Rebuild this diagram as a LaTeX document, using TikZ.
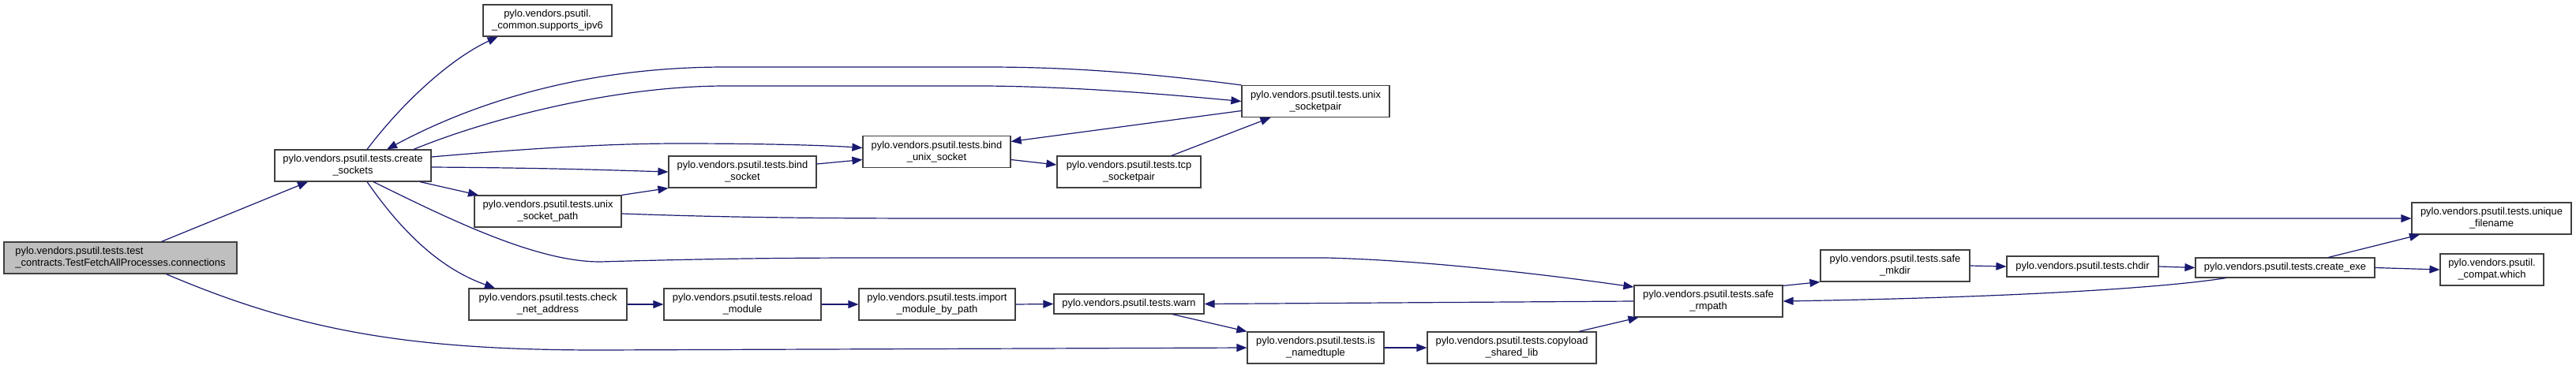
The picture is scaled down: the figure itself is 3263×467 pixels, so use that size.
\documentclass[tikz,border=0pt]{standalone}
\usepackage{fontspec}
\setmainfont{Liberation Sans}
\usetikzlibrary{arrows.meta}
\definecolor{calledge}{HTML}{191970}
\definecolor{boxline}{HTML}{404040}
\definecolor{current}{HTML}{BFBFBF}

\begin{document}
\begin{tikzpicture}[x=1pt,y=-1pt,
  fn/.style={draw=boxline,line width=1.2pt,rectangle,inner sep=0pt,minimum height=40pt,
    align=center,font=\fontsize{12.9}{15}\selectfont},
  fnline/.style={fn,minimum height=25pt},
  call/.style={draw=calledge,line width=1.2pt,-{Triangle[length=13pt,width=10pt]}}]
  \useasboundingbox (0,0) rectangle (3263,467);

  % Caller
  \node[fn,fill=current,align=left,minimum width=295pt] (main) at (152.5,327)
    {pylo.vendors.psutil.tests.test\\\_contracts.TestFetchAllProcesses.connections};

  % First column
  \node[fn,minimum width=198pt] (create) at (447,210) {pylo.vendors.psutil.tests.create\\\_sockets};

  % Second column
  \node[fn,minimum width=163pt] (ipv6) at (693.5,26) {pylo.vendors.psutil.\\\_common.supports\_ipv6};
  \node[fn,minimum width=186pt] (sockpath) at (694,268) {pylo.vendors.psutil.tests.unix\\\_socket\_path};
  \node[fn,minimum width=200pt] (netaddr) at (694,386) {pylo.vendors.psutil.tests.check\\\_net\_address};

  % Third column
  \node[fn,minimum width=187pt] (bindsock) at (940.5,218) {pylo.vendors.psutil.tests.bind\\\_socket};
  \node[fn,minimum width=199pt] (reload) at (940.5,386) {pylo.vendors.psutil.tests.reload\\\_module};

  % Fourth column
  \node[fn,minimum width=187pt] (bindunix) at (1186.5,192.5) {pylo.vendors.psutil.tests.bind\\\_unix\_socket};
  \node[fn,minimum width=198pt] (importmod) at (1187,386) {pylo.vendors.psutil.tests.import\\\_module\_by\_path};

  % Fifth column
  \node[fn,minimum width=182pt] (tcppair) at (1430,218) {pylo.vendors.psutil.tests.tcp\\\_socketpair};
  \node[fnline,minimum width=190pt] (warn) at (1430,385.5) {pylo.vendors.psutil.tests.warn};

  % Sixth column
  \node[fn,minimum width=187pt] (unixpair) at (1666.5,128.5) {pylo.vendors.psutil.tests.unix\\\_socketpair};
  \node[fn,minimum width=173pt] (namedtup) at (1666.5,441) {pylo.vendors.psutil.tests.is\\\_namedtuple};

  % Right part
  \node[fn,minimum width=214pt] (copyload) at (1915,441) {pylo.vendors.psutil.tests.copyload\\\_shared\_lib};
  \node[fn,minimum width=188pt] (rmpath) at (2164,382) {pylo.vendors.psutil.tests.safe\\\_rmpath};
  \node[fn,minimum width=189pt] (mkdir) at (2400.5,337) {pylo.vendors.psutil.tests.safe\\\_mkdir};
  \node[fnline,minimum width=192pt,minimum height=26pt] (chdir) at (2638,338) {pylo.vendors.psutil.tests.chdir};
  \node[fnline,minimum width=227pt] (createexe) at (2894.5,339.5) {pylo.vendors.psutil.tests.create\_exe};
  \node[fn,minimum width=202pt] (unique) at (3156,277) {pylo.vendors.psutil.tests.unique\\\_filename};
  \node[fn,minimum width=131pt] (which) at (3156.5,342) {pylo.vendors.psutil.\\\_compat.which};

  % Calls
  \draw[call] ([xshift=52]main.north) -- ([xshift=-57]create.south);
  \draw[call] ([xshift=58]main.south) .. controls (380,420) and (520,444) .. (760,444) -- (namedtup.west);
  \draw[call] ([xshift=18]create.north) .. controls (510,130) and (570,75) .. ([xshift=-63]ipv6.south);
  \draw[call] (unixpair.north west) .. controls (1450,92) and (1350,85) .. (1250,85) -- (919,85)
    .. controls (750,85) and (610,125) .. ([xshift=43]create.north);
  \draw[call] ([xshift=77]create.north) .. controls (620,150) and (780,109) .. (919,109) -- (1250,109)
    .. controls (1350,110) and (1450,117) .. (unixpair.west);
  \draw[call] ([yshift=11]create.east) .. controls (650,190) and (760,182) .. (860,182)
    .. controls (960,182) and (1040,184) .. ([yshift=5]bindunix.west);
  \draw[call] ([yshift=-2]create.east) .. controls (700,213) and (780,216) .. (bindsock.west);
  \draw[call] ([xshift=85]create.south) -- ([xshift=-88]sockpath.north);
  \draw[call] ([xshift=26]create.south) .. controls (573,280) and (680,332) .. (760,332)
    .. controls (900,328) and (1000,327) .. (1100,327) -- (1680,327)
    .. controls (1800,330) and (1950,347) .. ([yshift=18]rmpath.west);
  \draw[call] ([xshift=18]create.south) .. controls (520,310) and (570,345) .. ([xshift=-67]netaddr.north);
  \draw[call] (sockpath.north east) -- (bindsock.south west);
  \draw[call] ([yshift=-3]sockpath.east) .. controls (900,275) and (1000,277) .. (1200,277) -- (unique.west);
  \draw[call] ([yshift=10]bindsock.east) -- ([yshift=-10]bindunix.west);
  \draw[call] ([yshift=-10]bindunix.east) -- ([yshift=9]tcppair.west);
  \draw[call] ([yshift=-12]unixpair.west) -- ([yshift=13]bindunix.east);
  \draw[call] ([xshift=54]tcppair.north) -- ([xshift=-57]unixpair.south);
  \draw[call] (netaddr.east) -- (reload.west);
  \draw[call] (reload.east) -- (importmod.west);
  \draw[call] (importmod.east) -- (warn.west);
  \draw[call] ([xshift=55]warn.south) -- (namedtup.north west);
  \draw[call] (rmpath.west) -- (warn.east);
  \draw[call] (namedtup.east) -- (copyload.west);
  \draw[call] ([xshift=85]copyload.north) -- ([xshift=6]rmpath.south west);
  \draw[call] ([yshift=-1]rmpath.north east) -- (mkdir.south west);
  \draw[call] (mkdir.east) -- (chdir.west);
  \draw[call] (chdir.east) -- (createexe.west);
  \draw[call] ([xshift=-75]createexe.south) .. controls (2720,368) and (2500,378) .. (rmpath.east);
  \draw[call] ([xshift=55]createexe.north) -- ([xshift=-91]unique.south);
  \draw[call] (createexe.east) -- (which.west);
\end{tikzpicture}
\end{document}
